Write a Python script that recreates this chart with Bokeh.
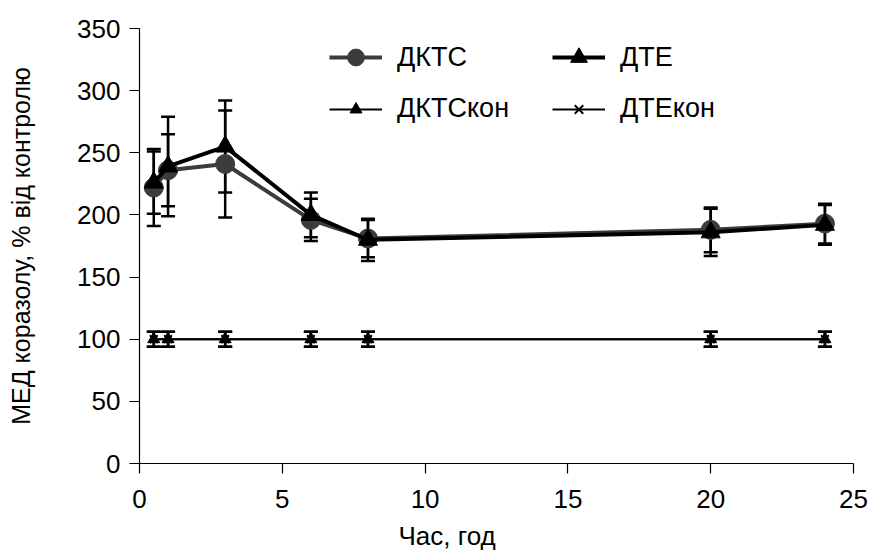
from bokeh.plotting import figure
from bokeh.models import (Range1d, SingleIntervalTicker, ColumnDataSource, Whisker,
                          TeeHead, Legend, LegendItem, Title)
from bokeh.embed import file_html
from bokeh.resources import INLINE

# ---- data ----
time_h = [0.5, 1, 3, 6, 8, 20, 24]
dkts = [222, 236, 241, 196, 181, 188, 193]
dkts_err = [31, 29, 43, 17, 15, 18, 16]
dte = [226, 239, 255, 200, 180, 186, 192]
dte_err = [25, 40, 37, 18, 17, 19, 16]
dkts_con = [100, 100, 100, 100, 100, 100, 100]
dkts_con_err = [6, 6, 6, 6, 6, 6, 6]
dte_con = [100, 100, 100, 100, 100, 100, 100]
dte_con_err = [6, 6, 6, 6, 6, 6, 6]

x_ticks_interval = 5
y_ticks_interval = 50
x_label = "Час, год"
y_label = "МЕД коразолу, % від контролю"

FONT = "Liberation Sans"
GRAY = "#3c3c3c"

p = figure(width=877, height=560, output_backend="svg", toolbar_location=None,
           x_range=Range1d(0, 25), y_range=Range1d(0, 350),
           min_border_left=139, min_border_right=24, min_border_top=28,
           min_border_bottom=97)
p.outline_line_color = None
p.xgrid.grid_line_color = None
p.ygrid.grid_line_color = None
p.background_fill_color = "white"
p.border_fill_color = "white"

p.xaxis.ticker = SingleIntervalTicker(interval=x_ticks_interval)
p.yaxis.ticker = SingleIntervalTicker(interval=y_ticks_interval)
for ax in (p.xaxis[0], p.yaxis[0]):
    ax.axis_line_color = "black"
    ax.axis_line_width = 1.2
    ax.major_tick_line_color = "black"
    ax.major_tick_line_width = 1.2
    ax.major_tick_in = 0
    ax.major_tick_out = 10
    ax.minor_tick_line_color = None
    ax.major_label_text_font = FONT
    ax.major_label_text_font_size = "26px"
    ax.major_label_text_color = "black"
p.xaxis.major_label_standoff = 16
p.yaxis.major_label_standoff = 9

# y-axis title
yax = p.yaxis[0]
yax.axis_label = y_label
yax.axis_label_text_font = FONT
yax.axis_label_text_font_size = "25px"
yax.axis_label_text_font_style = "normal"
yax.axis_label_text_color = "black"
yax.axis_label_standoff = 39

# x-axis title: off-centre to the left, as in the original
p.add_layout(Title(text=x_label, align="left", offset=259, standoff=17,
                   vertical_align="bottom",
                   text_font=FONT, text_font_size="26px", text_font_style="normal",
                   text_color="black"), "below")


def add_err(xs, ys, es):
    src = ColumnDataSource(dict(x=xs, lo=[y - e for y, e in zip(ys, es)],
                                hi=[y + e for y, e in zip(ys, es)]))
    w = Whisker(base="x", lower="lo", upper="hi", source=src,
                line_color="black", line_width=2.5,
                upper_head=TeeHead(size=14, line_color="black", line_width=2.5),
                lower_head=TeeHead(size=14, line_color="black", line_width=2.5))
    p.add_layout(w)


add_err(time_h, dkts_con, dkts_con_err)
add_err(time_h, dte_con, dte_con_err)
add_err(time_h, dkts, dkts_err)
add_err(time_h, dte, dte_err)

l_kc = p.line(time_h, dkts_con, line_color="black", line_width=2)
m_kc = p.scatter(time_h, dkts_con, marker="triangle", size=12, fill_color="black", line_color="black")
l_ec = p.line(time_h, dte_con, line_color="black", line_width=2)
m_ec = p.scatter(time_h, dte_con, marker="x", size=11, line_color="black", line_width=2)

l_k = p.line(time_h, dkts, line_color=GRAY, line_width=4)
m_k = p.scatter(time_h, dkts, marker="circle", size=19, fill_color=GRAY, line_color=GRAY)
l_e = p.line(time_h, dte, line_color="black", line_width=4)
m_e = p.scatter(time_h, dte, marker="triangle", size=19, fill_color="black", line_color="black")


def make_legend(items, gh, loc):
    lg = Legend(items=items, orientation="horizontal", location=loc,
                glyph_width=53, glyph_height=gh, label_standoff=15, label_width=131,
                spacing=24, padding=0, margin=0, border_line_color=None,
                background_fill_alpha=0, label_text_font=FONT,
                label_text_font_size="27px", label_text_color="black")
    p.add_layout(lg, "center")


make_legend([LegendItem(label="ДКТС", renderers=[l_k, m_k]),
             LegendItem(label="ДТЕ", renderers=[l_e, m_e])], 42, (190, 385))
make_legend([LegendItem(label="ДКТСкон", renderers=[l_kc, m_kc]),
             LegendItem(label="ДТЕкон", renderers=[l_ec, m_ec])], 30, (190, 339))

open("out.html", "w").write(file_html(p, INLINE))
